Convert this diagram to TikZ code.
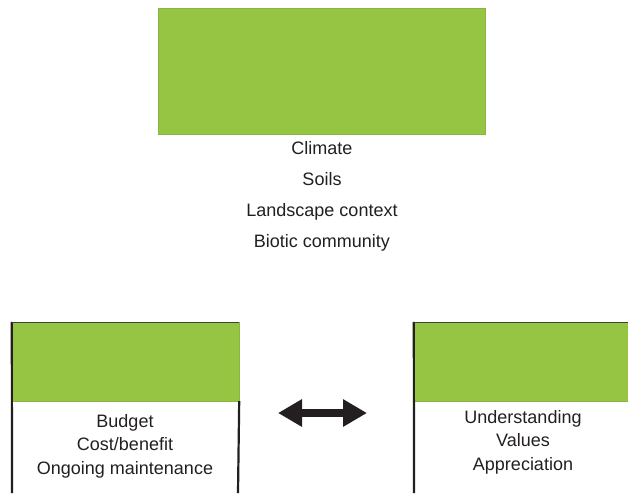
\documentclass[tikz,border=0pt]{standalone}
\usepackage{fontspec}
\setmainfont{Liberation Sans}
\usetikzlibrary{arrows.meta}
\definecolor{leafgreen}{RGB}{150,197,67}
\definecolor{inkblack}{RGB}{35,31,32}

\begin{document}
\begin{tikzpicture}[x=1pt,y=-1pt,
	greenbox/.style={fill=leafgreen, draw=leafgreen!92!black, inner sep=0pt},
	factors/.style={align=center, inner sep=0pt, text=inkblack,
		font=\fontsize{18}{31}\selectfont},
	smallfactors/.style={factors, font=\fontsize{18}{23.5}\selectfont},
	sideline/.style={line width=2.2pt, inkblack}]
	\useasboundingbox (0,0) rectangle (628,493);
	% top box and its list
	\node[greenbox, minimum width=327pt, minimum height=126pt] (site) at (321.5,71) {};
	\node[factors] (sitelist) at (322,196) {Climate\\Soils\\Landscape context\\Biotic community};
	% left box
	\node[greenbox, minimum width=227pt, minimum height=79pt] (budget) at (125.5,361.5) {};
	\coordinate (budgetBL) at (12,493);
	\coordinate (budgetBR) at (238,493);
	\draw[sideline] (budget.north west) -- (budgetBL);
	\draw[sideline] (budget.south east) -- (budgetBR);
	\draw[black!75, thin] (budget.north west) -- (budget.north east);
	\node[smallfactors] (budgetlist) at (125,446) {Budget\\Cost/benefit\\Ongoing maintenance};
	% right box
	\node[greenbox, minimum width=220pt, minimum height=79pt] (values) at (524,361.5) {};
	\coordinate (valuesBL) at (414,493);
	\draw[sideline] (values.north west) -- (valuesBL);
	\draw[black!75, thin] (values.north west) -- (values.north east);
	\node[smallfactors] (valueslist) at (523,442) {Understanding\\Values\\Appreciation};
	% double arrow between them
	\coordinate (arrL) at (278,413);
	\coordinate (arrR) at (367,413);
	\draw[inkblack, line width=8pt, {Triangle[length=24pt,width=26pt]}-{Triangle[length=24pt,width=26pt]}] (arrL) -- (arrR);
\end{tikzpicture}
\end{document}
